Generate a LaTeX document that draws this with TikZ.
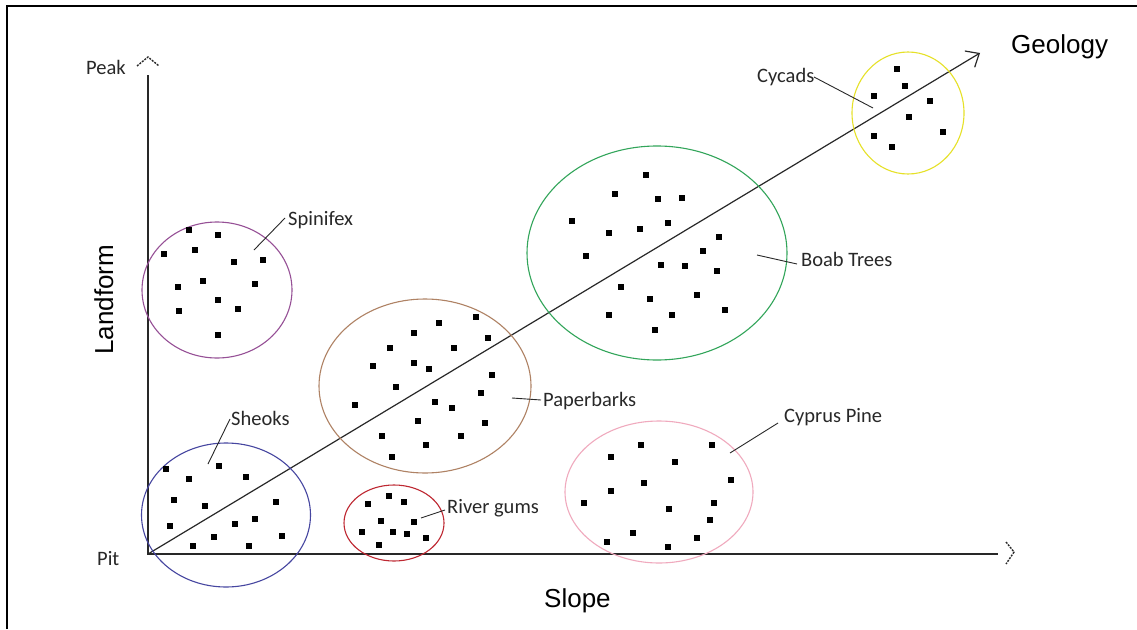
\documentclass[tikz,border=0pt]{standalone}
\usepackage{fontspec}
\setmainfont{Carlito}
\newfontfamily\headfont{Liberation Sans}
\usetikzlibrary{arrows.meta,shapes.geometric}
\definecolor{inkc}{RGB}{40,40,40}
\definecolor{spinc}{RGB}{150,80,150}
\definecolor{sheokc}{RGB}{70,70,160}
\definecolor{paperc}{RGB}{175,130,100}
\definecolor{riverc}{RGB}{190,40,50}
\definecolor{boabc}{RGB}{50,165,90}
\definecolor{cycadc}{RGB}{230,225,40}
\definecolor{cyprusc}{RGB}{240,170,190}
\tikzset{
  axisline/.style={draw=inkc, line width=1.4pt},
  chevron/.style={draw=inkc, line width=1.4pt, dash pattern=on 2pt off 1.2pt},
  zone/.style={draw, ellipse, line width=1.1pt, inner sep=0pt},
  leader/.style={draw=inkc, line width=0.9pt},
  tag/.style={font=\fontsize{20.5}{20.5}\selectfont, text=inkc, inner sep=0pt, anchor=base west},
  head/.style={font=\headfont\fontsize{26}{26}\selectfont, text=black, inner sep=0pt, anchor=base west},
}
\newcommand{\plants}[1]{\foreach \px/\py in {#1} \fill[black] (\px-2.7,\py-2.7) rectangle (\px+2.7,\py+2.7);}
\begin{document}
\begin{tikzpicture}[x=1pt, y=-1pt]
\useasboundingbox (0,0) rectangle (1137,629);
\fill[white] (0,0) rectangle (1137,629);
% frame edges
\draw[black, line width=1.6pt] (7,629) -- (7,6) -- (1137,6);

% axes
\coordinate (pit) at (148,554);
\coordinate (peak) at (148,75);
\coordinate (slopeend) at (998,554);
\draw[axisline] (peak) -- (pit) -- (slopeend);
\draw[chevron] (137,66) -- (148,57) -- (159,66);
\draw[chevron] (1006,542) -- (1014,552) -- (1006,564);
\coordinate (geoend) at (980,53);
\draw[draw=inkc, line width=1.2pt, -{Straight Barb[length=11pt, width=19pt, line width=1.2pt]}] (pit) -- (geoend);

% axis labels
\node[tag] (peaklbl) at (86,74) {Peak};
\node[tag] (pitlbl) at (97,565) {Pit};
\node[head, rotate=90] (landlbl) at (113,355) {Landform};
\node[head] (slopelbl) at (544,607) {Slope};
\node[head] (geolbl) at (1011,53) {Geology};

% vegetation zones
\node[zone, draw=spinc, minimum width=150pt, minimum height=136pt] (spin) at (217,290) {};
\node[zone, draw=sheokc, minimum width=169pt, minimum height=144pt] (sheok) at (226,515) {};
\node[zone, draw=paperc, minimum width=212pt, minimum height=174pt] (paper) at (425,386) {};
\node[zone, draw=riverc, minimum width=100pt, minimum height=76pt] (river) at (394,523) {};
\node[zone, draw=boabc, minimum width=260pt, minimum height=214pt] (boab) at (657,253) {};
\node[zone, draw=cycadc, minimum width=112pt, minimum height=122pt] (cycad) at (908,113) {};
\node[zone, draw=cyprusc, minimum width=188pt, minimum height=142pt] (cyprus) at (659,492) {};

% plants
\plants{189/230, 218/235, 164/254, 195/250, 234/262, 263/260, 203/281, 178/287, 255/284, 218/300, 179/311, 238/309, 218/335}
\plants{166/469, 219/466, 189/479, 246/477, 174/500, 205/506, 276/502, 170/526, 235/524, 255/519, 214/537, 282/536, 193/546, 249/546}
\plants{476/317, 439/323, 414/333, 390/348, 454/348, 488/338, 373/366, 414/363, 429/369, 492/375, 396/387, 481/393, 355/405, 435/402, 452/408, 418/421, 485/423, 382/436, 461/436, 426/445, 392/457}
\plants{389/496, 368/504, 404/502, 381/521, 414/522, 362/532, 393/532, 407/534, 426/538, 379/545}
\plants{646/175, 615/194, 658/199, 682/198, 572/221, 609/233, 640/229, 668/223, 719/237, 586/256, 703/251, 661/265, 685/266, 717/271, 621/287, 697/295, 650/299, 609/315, 672/315, 725/310, 655/330}
\plants{897/69, 905/86, 874/96, 930/101, 909/117, 943/132, 874/136, 892/147}
\plants{641/445, 712/445, 611/457, 675/462, 731/480, 644/483, 611/491, 584/503, 714/503, 669/509, 710/520, 633/533, 697/538, 607/542, 668/547}

% labels and leaders
\node[tag] (spinlbl) at (288,225) {Spinifex};
\node[tag] (sheoklbl) at (231,425) {Sheoks};
\node[tag] (paperlbl) at (543,406) {Paperbarks};
\node[tag] (riverlbl) at (447,513) {River gums};
\node[tag] (boablbl) at (801,266) {Boab Trees};
\node[tag] (cycadlbl) at (757,82) {Cycads};
\node[tag] (cypruslbl) at (784,422) {Cyprus Pine};

\coordinate (spinA) at (285,218); \coordinate (spinB) at (254,250);
\coordinate (sheokA) at (230,419); \coordinate (sheokB) at (208,464);
\coordinate (paperA) at (541,400); \coordinate (paperB) at (512,398);
\coordinate (riverA) at (445,510); \coordinate (riverB) at (421,518);
\coordinate (boabA) at (797,264); \coordinate (boabB) at (757,255);
\coordinate (cycadA) at (814,77); \coordinate (cycadB) at (873,108);
\coordinate (cyprusA) at (778,423); \coordinate (cyprusB) at (730,453);
\draw[leader] (spinA) -- (spinB);
\draw[leader] (sheokA) -- (sheokB);
\draw[leader] (paperA) -- (paperB);
\draw[leader] (riverA) -- (riverB);
\draw[leader] (boabA) -- (boabB);
\draw[leader] (cycadA) -- (cycadB);
\draw[leader] (cyprusA) -- (cyprusB);
\end{tikzpicture}
\end{document}
